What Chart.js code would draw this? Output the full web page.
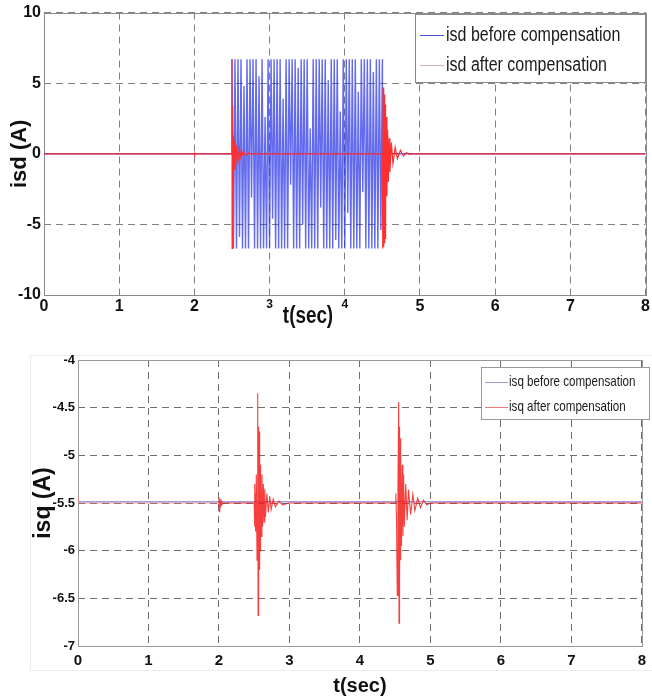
<!DOCTYPE html>
<html>
<head>
<meta charset="utf-8">
<script src="https://cdn.jsdelivr.net/npm/chart.js@4.4.1/dist/chart.umd.min.js"></script>
<style>
  body { margin: 0; background: #fff; width: 652px; height: 698px; position: relative; overflow: hidden; }
  #isd-chart { position: absolute; left: 0; top: 0; }
  #isq-chart { position: absolute; left: 0; top: 340px; }
  .isq-frame { position: absolute; left: 30px; top: 355px; width: 625px; height: 314px; border: 1px solid #ececec; }
</style>
</head>
<body>
<div class="isq-frame"></div>
<canvas id="isd-chart" width="652" height="332"></canvas>
<canvas id="isq-chart" width="652" height="358"></canvas>
<script>
// --- data: [t (sec), current (A)] ---
const timeTicks = [0, 1, 2, 3, 4, 5, 6, 7, 8];
const isdTicks = [-10, -5, 0, 5, 10];
const isqTicks = [-7, -6.5, -6, -5.5, -5, -4.5, -4];

// isd before compensation: zero, then a dense +-6.7 A oscillation between 2.5 s and 4.5 s
const isdBefore = [
    [0, 0], [2.499, 0],
    [2.50, 6.7], [2.52, -6.7], [2.54, 6.7], [2.56, -6.7], [2.58, 6.7], [2.60, -5.9], [2.62, 6.7], [2.64, -6.7], [2.66, 4.8], [2.68, -6.7],
    [2.70, 6.7], [2.72, -6.7], [2.74, 6.7], [2.76, -3.1], [2.78, 6.7], [2.80, -6.7], [2.82, 6.7], [2.84, -6.7], [2.86, 5.5], [2.88, -6.7],
    [2.90, 6.7], [2.92, -6.7], [2.94, 2.6], [2.96, -6.7], [2.98, 6.7], [3.00, -6.7], [3.02, 6.7], [3.04, -4.6], [3.06, 6.7], [3.08, -6.7],
    [3.10, 6.7], [3.12, -6.7], [3.14, 6.7], [3.16, -6.7], [3.18, 3.9], [3.20, -6.7], [3.22, 6.7], [3.24, -6.7], [3.26, 6.7], [3.28, -2.2],
    [3.30, 6.7], [3.32, -6.7], [3.34, 6.7], [3.36, -6.7], [3.38, 6.1], [3.40, -6.7], [3.42, 6.7], [3.44, -5.0], [3.46, 6.7], [3.48, -6.7],
    [3.50, 6.7], [3.52, -6.7], [3.54, 1.8], [3.56, -6.7], [3.58, 6.7], [3.60, -6.7], [3.62, 6.7], [3.64, -6.7], [3.66, 6.7], [3.68, -3.8],
    [3.70, 6.7], [3.72, -6.7], [3.74, 6.7], [3.76, -6.7], [3.78, 5.2], [3.80, -6.7], [3.82, 6.7], [3.84, -6.7], [3.86, 6.7], [3.88, -6.1],
    [3.90, 6.7], [3.92, -6.7], [3.94, 3.0], [3.96, -6.7], [3.98, 6.7], [4.00, -6.7], [4.02, 6.7], [4.04, -4.2], [4.06, 6.7], [4.08, -6.7],
    [4.10, 6.7], [4.12, -6.7], [4.14, 6.7], [4.16, -6.7], [4.18, 4.4], [4.20, -6.7], [4.22, 6.7], [4.24, -2.7], [4.26, 6.7], [4.28, -6.7],
    [4.30, 6.7], [4.32, -6.7], [4.34, 6.7], [4.36, -6.7], [4.38, 5.8], [4.40, -6.7], [4.42, 6.7], [4.44, -6.7], [4.46, 6.7], [4.48, -5.4],
    [4.50, 6.7], [4.501, 0],
    [8, 0]
];

// isd after compensation: stays at zero, short transients at 2.5 s and 4.5 s
const isdAfter = [
    [0, 0], [1.995, 0], [2.0, 0.1], [2.005, -0.08], [2.01, 0], [2.499, 0],
    [2.500, 6.7], [2.502, -6.7], [2.505, 3.4], [2.508, -2.9], [2.512, 2.0], [2.516, -2.2],
    [2.52, 1.3], [2.53, -1.1], [2.54, 0.9], [2.55, -0.8], [2.56, 0.6], [2.58, -0.5],
    [2.60, 0.4], [2.62, -0.3], [2.65, 0.2], [2.68, -0.12], [2.72, 0.06], [2.75, 0],
    [4.50, 0], [4.505, -6.7], [4.51, 4.7], [4.515, -6.6], [4.52, 4.6], [4.525, -6.3],
    [4.53, 4.2], [4.535, -6.0], [4.54, 3.5], [4.545, -5.2], [4.55, 2.6], [4.56, -3.0],
    [4.57, 1.7], [4.58, -2.0], [4.59, 1.1], [4.60, -1.3], [4.62, 0.8], [4.64, -0.7],
    [4.67, 0.45], [4.70, -0.35], [4.74, 0.25], [4.78, -0.15], [4.82, 0.08], [4.86, -0.04],
    [4.90, 0], [8, 0]
];

// isq before compensation: flat at about -5.5 A
const isqBefore = [[0, -5.488], [8, -5.488]];

// isq after compensation: -5.5 A with damped spikes at about 2.55 s and 4.55 s
const isqAfter = [
    [0, -5.44], [0.005, -5.5], [1.995, -5.5], [2.0, -5.44], [2.006, -5.59], [2.012, -5.46],
    [2.02, -5.55], [2.03, -5.48], [2.04, -5.52], [2.06, -5.5], [2.5, -5.5],
    [2.505, -5.3], [2.51, -5.75], [2.515, -5.4], [2.52, -5.8], [2.53, -5.2], [2.54, -6.1],
    [2.55, -4.35], [2.555, -6.68], [2.56, -4.7], [2.565, -6.4], [2.57, -4.75], [2.575, -6.2],
    [2.58, -5.0], [2.585, -6.0], [2.59, -5.1], [2.60, -5.85], [2.61, -5.2], [2.62, -5.75],
    [2.63, -5.3], [2.64, -5.7], [2.65, -5.35], [2.66, -5.65], [2.68, -5.4], [2.70, -5.6],
    [2.72, -5.43], [2.74, -5.57], [2.77, -5.46], [2.80, -5.54], [2.85, -5.48], [2.90, -5.52],
    [3.0, -5.5], [4.5, -5.5],
    [4.51, -5.4], [4.52, -5.7], [4.53, -6.47], [4.54, -5.3], [4.55, -4.44], [4.555, -6.76],
    [4.56, -4.7], [4.565, -6.3], [4.57, -4.82], [4.575, -6.1], [4.58, -4.95], [4.59, -5.95],
    [4.60, -5.1], [4.61, -5.85], [4.62, -5.2], [4.63, -5.75], [4.65, -5.3], [4.67, -5.68],
    [4.69, -5.36], [4.72, -5.62], [4.75, -5.41], [4.78, -5.58], [4.82, -5.45], [4.86, -5.55],
    [4.90, -5.47], [4.95, -5.52], [5.0, -5.5], [8, -5.5]
];

const toXY = pts => pts.map(p => ({ x: p[0], y: p[1] }));

const SANS = "'Liberation Sans', Arial, sans-serif";

// --- small plugins: plot frame, boxed legend, free-standing axis title ---
const plotFrame = {
    id: 'plotFrame',
    beforeDatasetsDraw(chart, args, opts) {
        const { left, top, right, bottom } = chart.chartArea;
        const ctx = chart.ctx;
        ctx.save();
        ctx.strokeStyle = opts.color || '#888';
        ctx.lineWidth = 1;
        ctx.strokeRect(Math.round(left) + 0.5, Math.round(top) + 0.5, Math.round(right - left), Math.round(bottom - top));
        ctx.restore();
    }
};

// narrow text: the figure uses a condensed face, so squeeze horizontally
const squeezedText = (ctx, text, x, y, squeeze) => {
    ctx.save();
    ctx.translate(x, y);
    ctx.scale(squeeze, 1);
    ctx.fillText(text, 0, 0);
    ctx.restore();
};

const boxLegend = {
    id: 'boxLegend',
    afterDatasetsDraw(chart, args, opts) {
        const ctx = chart.ctx;
        ctx.save();
        ctx.fillStyle = '#fff';
        ctx.fillRect(opts.left, opts.top, opts.width, opts.height);
        ctx.strokeStyle = opts.borderColor;
        ctx.lineWidth = 1;
        ctx.strokeRect(opts.left + 0.5, opts.top + 0.5, opts.width, opts.height);
        ctx.font = opts.font;
        ctx.textBaseline = 'middle';
        chart.data.datasets.forEach((ds, i) => {
            const y = opts.top + opts.firstRow + i * opts.rowGap;
            ctx.strokeStyle = ds.legendColor;
            ctx.beginPath();
            ctx.moveTo(opts.left + opts.lineStart, y + 0.5);
            ctx.lineTo(opts.left + opts.lineEnd, y + 0.5);
            ctx.stroke();
            ctx.fillStyle = opts.color;
            squeezedText(ctx, ds.label, opts.left + opts.textStart, y, opts.squeeze);
        });
        ctx.restore();
    }
};

const freeTitle = {
    id: 'freeTitle',
    afterDraw(chart, args, opts) {
        if (!opts.text) return;
        const ctx = chart.ctx;
        ctx.save();
        ctx.font = opts.font;
        ctx.fillStyle = opts.color;
        ctx.textAlign = 'center';
        ctx.textBaseline = 'middle';
        squeezedText(ctx, opts.text, opts.x, opts.y, opts.squeeze);
        ctx.restore();
    }
};

const dashedGrid = (color) => ({ color: color, lineWidth: 1, drawTicks: false });

// --- isd chart ---
new Chart(document.getElementById('isd-chart'), {
    type: 'line',
    data: {
        datasets: [{
            label: 'isd before compensation',
            data: toXY(isdBefore),
            borderColor: 'rgba(38, 48, 232, 0.72)',
            legendColor: '#4050ee',
            borderWidth: 1.4,
            pointRadius: 0,
            tension: 0,
            order: 2
        }, {
            label: 'isd after compensation',
            data: toXY(isdAfter),
            borderColor: '#ff2f2f',
            legendColor: '#d9aeb0',
            borderWidth: 1.2,
            pointRadius: 0,
            tension: 0,
            order: 1
        }]
    },
    options: {
        responsive: false,
        animation: false,
        events: [],
        layout: { padding: { top: 10, right: 6, left: 0, bottom: 0 } },
        scales: {
            x: {
                type: 'linear',
                min: 0,
                max: 8,
                afterBuildTicks: scale => { scale.ticks = timeTicks.map(v => ({ value: v })); },
                afterFit: scale => { scale.height = 37; },
                border: { display: false, dash: [7, 5] },
                grid: dashedGrid('#808080'),
                ticks: {
                    padding: 2,
                    color: '#111',
                    font: ctx => ({ family: SANS, weight: 'bold', size: (ctx.tick && (ctx.tick.value === 3 || ctx.tick.value === 4)) ? 12 : 16 })
                }
            },
            y: {
                min: -10,
                max: 10,
                afterBuildTicks: scale => { scale.ticks = isdTicks.map(v => ({ value: v })); },
                afterFit: scale => { scale.width = 44; },
                border: { display: false, dash: [7, 5] },
                grid: dashedGrid('#808080'),
                ticks: { padding: 3, color: '#111', font: { family: SANS, weight: 'bold', size: 16 } },
                title: {
                    display: true,
                    text: 'isd (A)',
                    color: '#111',
                    padding: { top: 7, bottom: 0 },
                    font: { family: SANS, weight: 'bold', size: 22 }
                }
            }
        },
        plugins: {
            legend: { display: false },
            tooltip: { enabled: false },
            plotFrame: { color: '#8a8a8a' },
            boxLegend: {
                left: 415, top: 14, width: 230, height: 68,
                firstRow: 21, rowGap: 30,
                lineStart: 5, lineEnd: 29, textStart: 31, squeeze: 0.8,
                font: '20px ' + SANS, color: '#1a1a1a', borderColor: '#8a8a8a'
            },
            freeTitle: { text: 't(sec)', x: 308, y: 317, squeeze: 0.82, color: '#111', font: 'bold 23px ' + SANS }
        }
    },
    plugins: [plotFrame, boxLegend, freeTitle]
});

// --- isq chart ---
new Chart(document.getElementById('isq-chart'), {
    type: 'line',
    data: {
        datasets: [{
            label: 'isq before compensation',
            data: toXY(isqBefore),
            borderColor: 'rgba(140, 140, 215, 0.85)',
            legendColor: '#9898d6',
            borderWidth: 1.5,
            pointRadius: 0,
            tension: 0,
            order: 2
        }, {
            label: 'isq after compensation',
            data: toXY(isqAfter),
            borderColor: 'rgba(245, 30, 30, 0.85)',
            legendColor: '#f07a7a',
            borderWidth: 1.1,
            pointRadius: 0,
            tension: 0,
            order: 1,
            segment: { borderColor: c => (c.p1.parsed.x < 2 ? 'rgba(245, 120, 120, 0.7)' : undefined) }
        }]
    },
    options: {
        responsive: false,
        animation: false,
        events: [],
        layout: { padding: { top: 20, right: 2, left: 0, bottom: 0 } },
        scales: {
            x: {
                type: 'linear',
                min: 0,
                max: 8,
                afterBuildTicks: scale => { scale.ticks = timeTicks.map(v => ({ value: v })); },
                afterFit: scale => { scale.height = 52; },
                border: { display: false, dash: [7, 5] },
                grid: dashedGrid('#6f6f6f'),
                ticks: { padding: 6, color: '#111', font: { family: SANS, weight: 'bold', size: 15 } },
                title: {
                    display: true,
                    text: 't(sec)',
                    color: '#111',
                    padding: { top: 0, bottom: 0 },
                    font: { family: SANS, weight: 'bold', size: 20 }
                }
            },
            y: {
                min: -7,
                max: -4,
                afterBuildTicks: scale => { scale.ticks = isqTicks.map(v => ({ value: v })); },
                afterFit: scale => { scale.width = 78; },
                border: { display: false, dash: [7, 5] },
                grid: dashedGrid('#6f6f6f'),
                ticks: {
                    padding: 3,
                    color: '#111',
                    font: { family: SANS, weight: 'bold', size: 13 },
                    callback: v => String(v)
                },
                title: {
                    display: true,
                    text: 'isq (A)',
                    color: '#111',
                    padding: { top: 30, bottom: 0 },
                    font: { family: SANS, weight: 'bold', size: 23 }
                }
            }
        },
        plugins: {
            legend: { display: false },
            tooltip: { enabled: false },
            plotFrame: { color: '#999' },
            boxLegend: {
                left: 481, top: 27, width: 168, height: 52,
                firstRow: 15, rowGap: 25,
                lineStart: 4, lineEnd: 27, textStart: 28, squeeze: 0.8,
                font: '14.5px ' + SANS, color: '#1a1a1a', borderColor: '#999'
            }
        }
    },
    plugins: [plotFrame, boxLegend]
});
</script>
</body>
</html>
